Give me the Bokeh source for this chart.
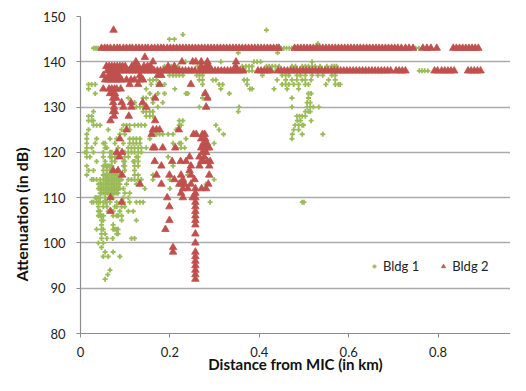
from bokeh.plotting import figure
from bokeh.models import Range1d, FixedTicker, NumeralTickFormatter, Title, Legend, LegendItem
from bokeh.embed import file_html
from bokeh.resources import INLINE

GREEN = "#9BBB59"
RED = "#C0504D"
FONT = "Lato"

series_names = ["Bldg 1", "Bldg 2"]
x_ticks = [0, 0.2, 0.4, 0.6, 0.8, 1.0]
y_ticks = [80, 90, 100, 110, 120, 130, 140, 150]

# ---- Bldg 2: the two dense levels ----
b2_level_hi = 143
b2_x_hi = [0.047, 0.054, 0.060, 0.067, 0.075, 0.082, 0.088, 0.096, 0.103, 0.110, 0.116, 0.124,
           0.131, 0.138, 0.145, 0.151, 0.159, 0.166, 0.173, 0.180, 0.186, 0.194, 0.201, 0.208,
           0.215, 0.222, 0.229, 0.236, 0.243, 0.250, 0.257, 0.264, 0.271, 0.278, 0.285, 0.292,
           0.299, 0.306, 0.313, 0.320, 0.327, 0.334, 0.341, 0.348, 0.355, 0.362, 0.369, 0.376,
           0.383, 0.390, 0.397, 0.404, 0.411, 0.418, 0.425, 0.432, 0.439, 0.444,
           0.479, 0.486, 0.493, 0.500, 0.507, 0.514, 0.521, 0.528, 0.535, 0.542, 0.549, 0.556,
           0.563, 0.570, 0.577, 0.584, 0.591, 0.598, 0.605, 0.612, 0.619, 0.626, 0.633, 0.640,
           0.647, 0.654, 0.661, 0.668, 0.675, 0.682, 0.689, 0.696, 0.703, 0.710,
           0.718, 0.727, 0.735, 0.744, 0.766, 0.775, 0.784, 0.797,
           0.834, 0.841, 0.848, 0.855, 0.862, 0.869, 0.876, 0.883, 0.890]
b2_level_lo = 138
b2_x_lo = [0.060, 0.067, 0.074, 0.081, 0.088, 0.095, 0.102, 0.109, 0.116, 0.123, 0.130, 0.137,
           0.144, 0.151, 0.158, 0.165, 0.172, 0.179, 0.186, 0.193, 0.200, 0.207, 0.214, 0.221,
           0.228, 0.235, 0.242, 0.249, 0.256, 0.266, 0.273, 0.280, 0.287, 0.294, 0.301, 0.308,
           0.315, 0.322, 0.329, 0.336, 0.343, 0.350, 0.357, 0.364,
           0.397, 0.404, 0.411, 0.418, 0.425,
           0.442, 0.449, 0.456, 0.463, 0.470, 0.477, 0.484, 0.491, 0.498, 0.505, 0.512, 0.519,
           0.526, 0.533, 0.540, 0.547, 0.554, 0.561, 0.568, 0.575, 0.582, 0.589, 0.596, 0.603,
           0.610, 0.617, 0.624, 0.631, 0.638, 0.645, 0.652, 0.659, 0.666, 0.673, 0.680, 0.687,
           0.694, 0.706, 0.713, 0.720, 0.727, 0.792, 0.799, 0.808, 0.815, 0.822, 0.829, 0.836,
           0.867, 0.874, 0.881, 0.888, 0.895]

# ---- Bldg 2: scattered readings (attenuation, [distances]) ----
b2_rows = [
    (147, [0.074]),
    (141, [0.144]),
    (140, [0.124, 0.162, 0.227, 0.251, 0.258, 0.270, 0.284, 0.348]),
    (139, [0.058, 0.064, 0.070, 0.076, 0.082, 0.088, 0.094, 0.100, 0.115, 0.122, 0.130, 0.142,
           0.150, 0.157, 0.196, 0.210, 0.270, 0.281, 0.288, 0.347]),
    (137, [0.051, 0.063, 0.068, 0.074, 0.080, 0.085, 0.133, 0.173, 0.181]),
    (136, [0.055, 0.062, 0.068, 0.074, 0.080, 0.086, 0.092, 0.103, 0.113, 0.121, 0.133, 0.140]),
    (135, [0.110, 0.129, 0.177, 0.247]),
    (134, [0.051, 0.064, 0.070, 0.076, 0.081, 0.090]),
    (133, [0.066, 0.072, 0.077, 0.279]),
    (132, [0.073, 0.080, 0.167, 0.284]),
    (131, [0.073, 0.092, 0.113, 0.139]),
    (130, [0.075, 0.096, 0.114, 0.147, 0.281]),
    (129, [0.073, 0.077]),
    (128, [0.075, 0.108]),
    (127, [0.067, 0.167]),
    (125, [0.103, 0.162, 0.170, 0.177, 0.220]),
    (124, [0.159, 0.253, 0.259, 0.273, 0.278]),
    (123, [0.088, 0.270, 0.279]),
    (122, [0.275, 0.283]),
    (121, [0.162, 0.166, 0.184, 0.212, 0.270, 0.277, 0.284, 0.288]),
    (120, [0.081, 0.093, 0.273, 0.281]),
    (119, [0.087, 0.244, 0.266, 0.277]),
    (118, [0.166, 0.205, 0.224, 0.236, 0.270, 0.275, 0.284, 0.290]),
    (117, [0.181, 0.247, 0.266, 0.288]),
    (116, [0.073, 0.084, 0.244]),
    (115, [0.093, 0.170, 0.199, 0.225, 0.247, 0.288]),
    (114, [0.210, 0.229, 0.255]),
    (113, [0.133, 0.181, 0.221, 0.227, 0.233, 0.247, 0.286]),
    (112, [0.229, 0.240, 0.257, 0.271, 0.281]),
    (111, [0.225, 0.257]),
    (110, [0.067, 0.194, 0.229, 0.251, 0.257]),
    (109, [0.092, 0.257]),
    (108, [0.199, 0.257]),
    (107, [0.067, 0.257]),
    (106, [0.257]),
    (105, [0.199, 0.257]),
    (104, [0.257]),
    (103, [0.190]),
    (102, [0.257]),
    (100, [0.257]),
    (99, [0.207]),
    (98, [0.207, 0.257]),
    (97, [0.257]),
    (96, [0.257]),
    (95, [0.257]),
    (94, [0.257]),
    (93, [0.257]),
    (92, [0.257]),
]

# ---- Bldg 1 readings (attenuation, [distances]) ----
b1_rows_top = [
    (147, [0.416]),
    (146, [0.229]),
    (145, [0.199, 0.210]),
    (144, [0.531]),
    (143, [0.029, 0.033, 0.036, 0.040, 0.273, 0.362, 0.422, 0.449, 0.455, 0.461, 0.467, 0.473,
           0.718, 0.750, 0.757]),
    (142, [0.353, 0.441]),
    (140, [0.235, 0.314, 0.388, 0.395, 0.403, 0.518]),
]
b1_rows_band = [
    (139, [0.188, 0.196, 0.203, 0.210, 0.218, 0.262, 0.273, 0.362, 0.370, 0.377, 0.384, 0.416,
           0.422, 0.429, 0.436, 0.444, 0.473, 0.481, 0.496, 0.503, 0.510, 0.518, 0.525, 0.536,
           0.551, 0.562, 0.568, 0.573]),
    (138, [0.218, 0.225, 0.269, 0.277, 0.369, 0.377, 0.384, 0.429, 0.436, 0.496, 0.503, 0.516,
           0.531, 0.542, 0.563, 0.707, 0.758, 0.764, 0.770, 0.777]),
    (137, [0.199, 0.207, 0.214, 0.221, 0.229, 0.260, 0.266, 0.273, 0.407, 0.451, 0.459, 0.466,
           0.484, 0.492, 0.503, 0.518, 0.531, 0.542, 0.562, 0.570]),
    (136, [0.155, 0.162, 0.170, 0.266, 0.273, 0.296, 0.303, 0.366, 0.373, 0.440, 0.459, 0.473,
           0.484, 0.496, 0.503, 0.516, 0.555, 0.570]),
]
b1_rows_mid = [
    (135, [0.018, 0.025, 0.033, 0.158, 0.173, 0.188, 0.273, 0.310, 0.318, 0.373, 0.451, 0.459,
           0.466, 0.477, 0.488, 0.503, 0.510, 0.549, 0.570, 0.577, 0.581]),
    (134, [0.018, 0.147, 0.211, 0.314, 0.379, 0.384, 0.433, 0.462, 0.488]),
    (133, [0.033, 0.155, 0.173, 0.188, 0.236, 0.240, 0.277, 0.333, 0.510, 0.516]),
    (132, [0.107, 0.140, 0.147, 0.162, 0.273, 0.286, 0.473, 0.510]),
    (131, [0.121, 0.162, 0.184, 0.507, 0.514]),
    (130, [0.125, 0.133, 0.140, 0.147, 0.173, 0.266, 0.283, 0.355, 0.473, 0.507, 0.514, 0.521, 0.533]),
    (129, [0.029, 0.140, 0.147, 0.155, 0.162, 0.353, 0.503, 0.510, 0.514]),
    (128, [0.018, 0.025, 0.147, 0.155, 0.162, 0.484, 0.490, 0.496, 0.503]),
    (127, [0.018, 0.025, 0.029, 0.221, 0.229, 0.485, 0.492, 0.516]),
    (126, [0.029, 0.036, 0.044, 0.096, 0.103, 0.110, 0.121, 0.129, 0.136, 0.144, 0.221, 0.225,
           0.303, 0.480, 0.488, 0.496, 0.499]),
    (125, [0.018, 0.062, 0.092, 0.110, 0.214, 0.310, 0.477, 0.488]),
    (124, [0.014, 0.088, 0.099, 0.166, 0.170, 0.177, 0.184, 0.196, 0.207, 0.320, 0.474, 0.496, 0.542]),
    (123, [0.014, 0.036, 0.066, 0.081, 0.110, 0.118, 0.125, 0.133, 0.155, 0.236, 0.473]),
    (122, [0.014, 0.033, 0.051, 0.055, 0.077, 0.096, 0.110, 0.118, 0.125, 0.133, 0.207, 0.221,
           0.225, 0.299]),
    (121, [0.014, 0.025, 0.055, 0.059, 0.084, 0.107, 0.114, 0.121, 0.129, 0.136, 0.147, 0.184,
           0.214, 0.225, 0.233]),
    (120, [0.010, 0.014, 0.029, 0.051, 0.066, 0.070, 0.099, 0.107, 0.114, 0.121, 0.129, 0.136]),
]
b1_rows_low = [
    (119, [0.014, 0.021, 0.051, 0.066, 0.070, 0.077, 0.081, 0.099, 0.107, 0.125, 0.129, 0.196]),
    (118, [0.036, 0.055, 0.070, 0.077, 0.096, 0.099, 0.118, 0.121, 0.129]),
    (117, [0.014, 0.051, 0.055, 0.059, 0.062, 0.066, 0.070, 0.096, 0.099, 0.121, 0.129, 0.207]),
    (116, [0.018, 0.029, 0.051, 0.059, 0.066, 0.070, 0.081, 0.099, 0.121]),
    (115, [0.014, 0.051, 0.055, 0.059, 0.062, 0.066, 0.070, 0.073, 0.077, 0.081, 0.084, 0.088,
           0.092, 0.121, 0.129, 0.162, 0.240]),
    (114, [0.025, 0.029, 0.036, 0.044, 0.051, 0.055, 0.059, 0.062, 0.066, 0.070, 0.073, 0.077,
           0.081, 0.084, 0.088, 0.092, 0.107, 0.114, 0.121, 0.129, 0.136, 0.162, 0.200, 0.299]),
    (113, [0.040, 0.044, 0.047, 0.051, 0.055, 0.059, 0.062, 0.066, 0.070, 0.073, 0.077, 0.081,
           0.084, 0.088, 0.103, 0.125, 0.133, 0.281]),
    (112, [0.040, 0.044, 0.047, 0.051, 0.055, 0.059, 0.062, 0.066, 0.070, 0.073, 0.077, 0.081,
           0.084, 0.088, 0.096, 0.144, 0.200]),
    (111, [0.044, 0.047, 0.051, 0.055, 0.059, 0.062, 0.066, 0.070, 0.073, 0.077, 0.081, 0.084,
           0.099, 0.110]),
    (110, [0.033, 0.036, 0.040, 0.044, 0.055, 0.066, 0.073, 0.096, 0.107]),
    (109, [0.025, 0.029, 0.036, 0.040, 0.044, 0.051, 0.055, 0.059, 0.066, 0.081, 0.096, 0.110,
           0.125, 0.133, 0.140, 0.290, 0.496, 0.500]),
    (108, [0.040, 0.051, 0.059, 0.077, 0.081, 0.092, 0.099]),
    (107, [0.040, 0.044, 0.062, 0.073, 0.088, 0.107, 0.118]),
    (106, [0.040, 0.044, 0.047, 0.051, 0.073, 0.081, 0.084, 0.092]),
    (105, [0.047, 0.051, 0.092, 0.125]),
    (104, [0.047, 0.073]),
    (103, [0.036, 0.047, 0.051, 0.073, 0.077, 0.081, 0.084]),
    (102, [0.047, 0.055, 0.081, 0.084]),
    (101, [0.047, 0.059, 0.072, 0.114, 0.121]),
    (100, [0.040, 0.051]),
    (99, [0.047]),
    (98, [0.055, 0.073]),
    (97, [0.051, 0.062, 0.088]),
    (94, [0.066]),
    (93, [0.061]),
    (92, [0.055]),
]


def flatten(rows):
    xs, ys = [], []
    for yv, xl in rows:
        for xv in xl:
            xs.append(xv)
            ys.append(yv)
    return xs, ys


b1_x, b1_y = flatten(b1_rows_top + b1_rows_band + b1_rows_mid + b1_rows_low)
b2_x, b2_y = flatten([(b2_level_hi, b2_x_hi), (b2_level_lo, b2_x_lo)] + b2_rows)

p = figure(width=510, height=375, x_range=Range1d(0, 0.962), y_range=Range1d(80, 150),
           output_backend="svg", toolbar_location=None,
           min_border_left=77, min_border_right=0, min_border_top=16, min_border_bottom=41)
p.outline_line_color = None
p.background_fill_color = "white"
p.border_fill_color = "white"

p.xgrid.grid_line_color = None
p.ygrid.grid_line_color = "#ABABAB"
p.ygrid.grid_line_width = 1.3
p.ygrid.ticker = FixedTicker(ticks=y_ticks)

p.xaxis.ticker = FixedTicker(ticks=x_ticks)
p.yaxis.ticker = FixedTicker(ticks=y_ticks)
p.xaxis.formatter = NumeralTickFormatter(format="0.[0]")
for ax in (p.xaxis[0], p.yaxis[0]):
    ax.axis_line_color = "#8C8C8C"
    ax.axis_line_width = 1.2
    ax.major_tick_line_color = "#8C8C8C"
    ax.major_tick_out = 4
    ax.major_tick_in = 0
    ax.minor_tick_line_color = None
    ax.major_label_text_font = FONT
    ax.major_label_text_font_size = "13px"
    ax.major_label_text_color = "#222222"
p.xaxis.major_label_standoff = 9
p.yaxis.major_label_standoff = 11

p.xaxis.axis_label = "Distance from MIC (in km)"
p.xaxis.axis_label_text_font = FONT
p.xaxis.axis_label_text_font_size = "15px"
p.xaxis.axis_label_text_font_style = "bold"
p.xaxis.axis_label_text_color = "#111111"
p.xaxis.axis_label_standoff = -5

r1 = p.scatter(b1_x, b1_y, marker="cross", size=5, line_color=GREEN, line_width=1.8)
r2 = p.scatter(b2_x, b2_y, marker="triangle", size=7.5, fill_color=RED, line_color=RED, line_width=0.8)

legend = Legend(items=[LegendItem(label=series_names[0], renderers=[r1]),
                       LegendItem(label=series_names[1], renderers=[r2])],
                location=(289, 59), orientation="horizontal",
                glyph_width=10, glyph_height=12, label_height=14, label_standoff=4,
                spacing=19, padding=0, margin=0,
                border_line_color=None, background_fill_alpha=0,
                label_text_font=FONT, label_text_font_size="13px", label_text_color="#222222")
p.add_layout(legend)

ytitle = Title(text="Attenuation (in dB)", align="left", offset=52, standoff=18,
               text_font=FONT, text_font_size="16px", text_font_style="bold", text_color="#111111")
p.add_layout(ytitle, "left")

open("out.html", "w").write(file_html(p, INLINE))
